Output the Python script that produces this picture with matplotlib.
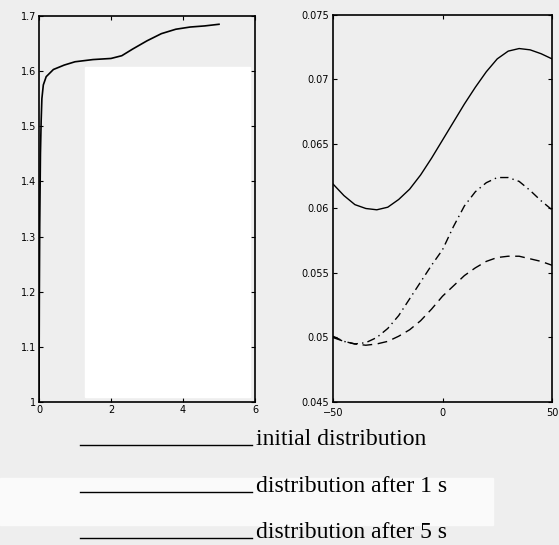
import numpy as np
import matplotlib.pyplot as plt
from matplotlib.patches import Rectangle
from matplotlib.lines import Line2D

# left panel: curve over time
t = [0, 0.01, 0.02, 0.04, 0.06, 0.08, 0.12, 0.2, 0.4, 0.7, 1.0, 1.5, 2.0,
     2.3, 2.6, 3.0, 3.4, 3.8, 4.2, 4.6, 5.0]
val = [1.0, 1.2, 1.32, 1.45, 1.51, 1.55, 1.575, 1.59, 1.603, 1.611, 1.617,
       1.621, 1.623, 1.628, 1.64, 1.655, 1.668, 1.676, 1.68, 1.682, 1.685]

# right panel: distributions
pos = [-50, -45, -40, -35, -30, -25, -20, -15, -10, -5, 0, 5, 10, 15, 20,
       25, 30, 35, 40, 45, 50]
initial = [0.0619, 0.0610, 0.0603, 0.0600, 0.0599, 0.0601, 0.0607, 0.0615,
           0.0626, 0.0639, 0.0653, 0.0667, 0.0681, 0.0694, 0.0706, 0.0716,
           0.0722, 0.0724, 0.0723, 0.0720, 0.0716]
after1 = [0.0501, 0.0497, 0.0495, 0.0496, 0.0500, 0.0507, 0.0517, 0.0530,
          0.0543, 0.0556, 0.0568, 0.0586, 0.0602, 0.0613, 0.0620, 0.0624,
          0.0624, 0.0621, 0.0614, 0.0606, 0.0599]
after5 = [0.0500, 0.0497, 0.0495, 0.0494, 0.0495, 0.0497, 0.0501, 0.0506,
          0.0513, 0.0522, 0.0532, 0.0540, 0.0548, 0.0554, 0.0559, 0.0562,
          0.0563, 0.0563, 0.0561, 0.0559, 0.0556]

labels = ["initial distribution", "distribution after 1 s",
          "distribution after 5 s"]

W, H = 559, 545
bg = "#eeeeee"
fig = plt.figure(figsize=(W / 100, H / 100), dpi=100, facecolor=bg)

# scan artefacts: white patches
fig.patches.append(Rectangle((85 / W, 1 - 397 / H), 165 / W, 330 / H,
                             transform=fig.transFigure, color="white", zorder=0))
fig.patches.append(Rectangle((0, 1 - 525 / H), 493 / W, 47 / H,
                             transform=fig.transFigure, color="#fafafa", zorder=0))

ax1 = fig.add_axes([39 / W, 1 - 402 / H, 216 / W, 386 / H])
ax2 = fig.add_axes([333 / W, 1 - 402 / H, 219 / W, 387 / H])

ax1.plot(t, val, color="black", lw=1.2)
ax1.set_xlim(0, 6)
ax1.set_ylim(1, 1.7)
ax1.set_xticks([0, 2, 4, 6])
ax1.set_yticks([1, 1.1, 1.2, 1.3, 1.4, 1.5, 1.6, 1.7])
ax1.set_yticklabels(["1", "1.1", "1.2", "1.3", "1.4", "1.5", "1.6", "1.7"])

ax2.plot(pos, initial, color="black", lw=1.0)
ax2.plot(pos, after1, color="black", lw=1.0, linestyle=(0, (6, 3, 1, 3)))
ax2.plot(pos, after5, color="black", lw=1.0, linestyle=(0, (7, 4)))
ax2.set_xlim(-50, 50)
ax2.set_ylim(0.045, 0.075)
ax2.set_xticks([-50, 0, 50])
ax2.set_yticks([0.045, 0.05, 0.055, 0.06, 0.065, 0.07, 0.075])
ax2.set_yticklabels(["0.045", "0.05", "0.055", "0.06", "0.065", "0.07", "0.075"])

for ax in (ax1, ax2):
    ax.patch.set_alpha(0)
    for s in ax.spines.values():
        s.set_linewidth(1.2)
    ax.tick_params(direction="in", length=3, width=0.8, labelsize=7,
                   top=True, right=True, pad=2)
ax2.tick_params(axis="x", pad=4)
ax2.tick_params(axis="y", pad=3)

# legend drawn under the panels
for i, lab in enumerate(labels):
    y = 1 - (445 + i * 46.5) / H
    fig.add_artist(Line2D([80 / W, 252 / W], [y, y], color="black", lw=1.0,
                          transform=fig.transFigure))
    fig.text(256 / W, y, lab, fontsize=17, family="Liberation Serif",
             va="baseline")

fig.savefig("out.png", dpi=100, facecolor=bg)
